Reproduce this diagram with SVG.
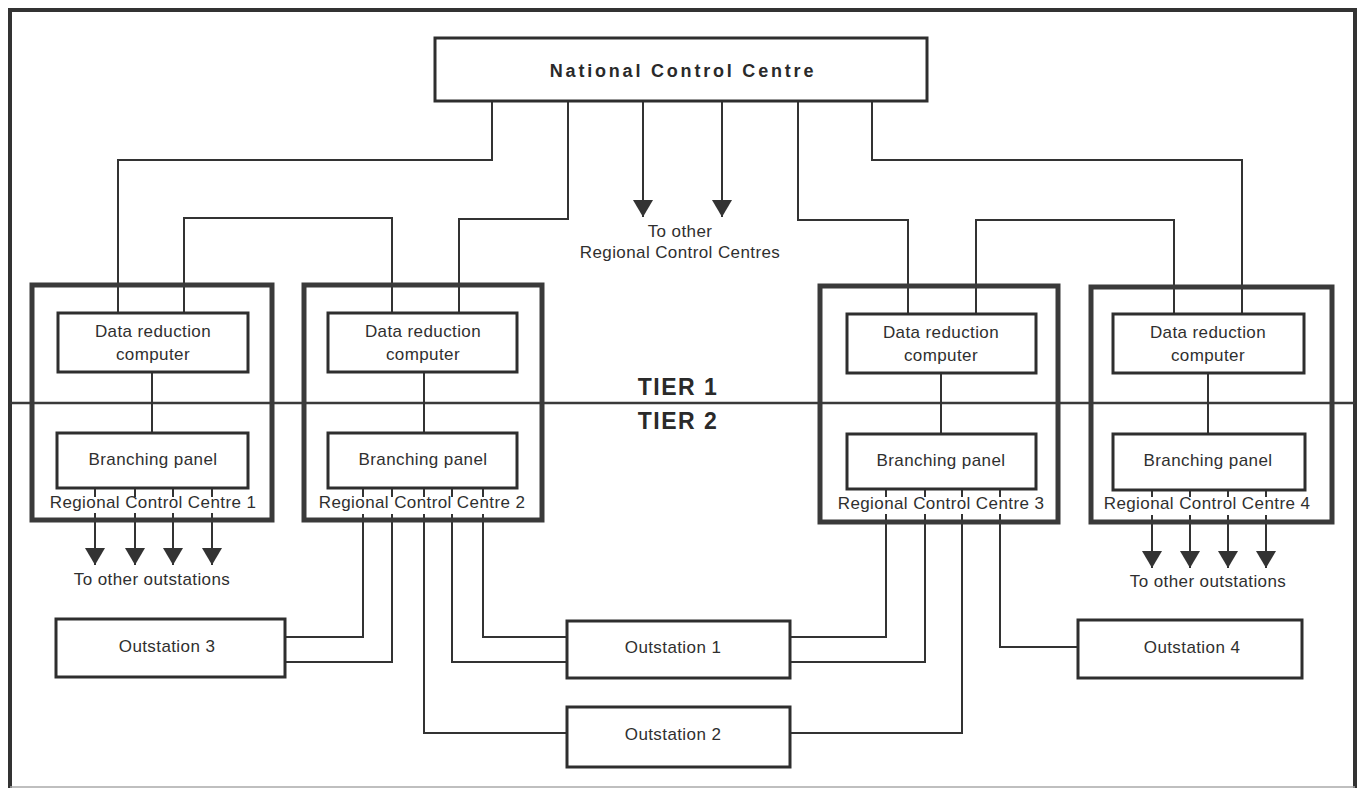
<svg xmlns="http://www.w3.org/2000/svg" width="1357" height="791" viewBox="0 0 1357 791">
<defs>
<style>
.bg{fill:#fff}
.frame{fill:none;stroke:#333;stroke-width:4}
.box{fill:#fff;stroke:#2e2e2e;stroke-width:3}
.rcc{fill:none;stroke:#3a3a3a;stroke-width:5}
.ln{fill:none;stroke:#333;stroke-width:2}
.tier{fill:none;stroke:#3a3a3a;stroke-width:2.5}
.t{font-family:"Liberation Sans",Arial,sans-serif;font-size:17px;fill:#2f2f2f;text-anchor:middle;letter-spacing:0.4px}
.ncc{font-family:"Liberation Sans",Arial,sans-serif;font-size:18px;font-weight:bold;fill:#2a2a2a;text-anchor:middle;letter-spacing:2.8px}
.tiert{font-family:"Liberation Sans",Arial,sans-serif;font-size:23px;font-weight:bold;fill:#2a2a2a;text-anchor:middle;letter-spacing:1.5px}
.arr{fill:#333}
</style>
<marker id="ah" viewBox="0 0 20 17" refX="10" refY="17" markerWidth="20" markerHeight="17" markerUnits="userSpaceOnUse" orient="0">
<path class="arr" d="M0,0 L20,0 L10,17 Z"/>
</marker>
</defs>
<rect class="bg" x="0" y="0" width="1357" height="791"/>
<g id="frame">
<path class="frame" d="M10,788 V10 H1355 V788"/>
<path d="M10,787 H1355" fill="none" stroke="#aaa" stroke-width="1.5"/>
<path class="tier" d="M10,403 H1355"/>
</g>
<g id="tier-labels">
<text class="tiert" x="678" y="395">TIER 1</text>
<text class="tiert" x="678" y="429">TIER 2</text>
</g>
<g id="connectors">
<path class="ln" d="M492,101 V160 H118 V313"/>
<path class="ln" d="M568,101 V219 H459 V313"/>
<path class="ln" d="M798,101 V220 H908 V314"/>
<path class="ln" d="M872,101 V160 H1242 V314"/>
<path class="ln" d="M184,313 V218 H392 V313"/>
<path class="ln" d="M976,314 V220 H1174 V314"/>
<path class="ln" d="M152,372 V433"/>
<path class="ln" d="M424,372 V433"/>
<path class="ln" d="M941,373 V434"/>
<path class="ln" d="M1208,373 V434"/>
<path class="ln" d="M643,101 V217" marker-end="url(#ah)"/>
<path class="ln" d="M722,101 V217" marker-end="url(#ah)"/>
<path class="ln" d="M95,488 V497 M135,488 V497 M173,488 V497 M212,488 V497"/>
<path class="ln" d="M95,513 V565" marker-end="url(#ah)"/>
<path class="ln" d="M135,513 V565" marker-end="url(#ah)"/>
<path class="ln" d="M173,513 V565" marker-end="url(#ah)"/>
<path class="ln" d="M212,513 V565" marker-end="url(#ah)"/>
<path class="ln" d="M1152,490 V497 M1190,490 V497 M1228,490 V497 M1266,490 V497"/>
<path class="ln" d="M1152,515 V568" marker-end="url(#ah)"/>
<path class="ln" d="M1190,515 V568" marker-end="url(#ah)"/>
<path class="ln" d="M1228,515 V568" marker-end="url(#ah)"/>
<path class="ln" d="M1266,515 V568" marker-end="url(#ah)"/>
<path class="ln" d="M363,488 V497 M392,488 V497 M424,488 V497 M452,488 V497 M483,488 V497"/>
<path class="ln" d="M363,514 V637 H285"/>
<path class="ln" d="M392,514 V662 H285"/>
<path class="ln" d="M424,514 V733 H567"/>
<path class="ln" d="M452,514 V662 H567"/>
<path class="ln" d="M483,514 V637 H567"/>
<path class="ln" d="M886,489 V497 M925,489 V497 M962,489 V497 M1000,489 V497"/>
<path class="ln" d="M886,514 V637 H790"/>
<path class="ln" d="M925,514 V662 H790"/>
<path class="ln" d="M962,514 V733 H790"/>
<path class="ln" d="M1000,514 V647 H1078"/>
</g>
<g id="ncc">
<rect class="box" x="435" y="38" width="492" height="63"/>
<text class="ncc" x="683" y="77">National Control Centre</text>
</g>
<g id="to-other-rcc">
<text class="t" x="680" y="237">To other</text>
<text class="t" x="680" y="258">Regional Control Centres</text>
</g>
<g id="rcc1">
<rect class="rcc" x="32" y="285" width="240" height="235"/>
<text class="t" x="153" y="508">Regional Control Centre 1</text>
</g>
<g id="drc1">
<rect class="box" x="58" y="313" width="190" height="59"/>
<text class="t" x="153" y="337">Data reduction</text>
<text class="t" x="153" y="360">computer</text>
</g>
<g id="bp1">
<rect class="box" x="57" y="433" width="191" height="55"/>
<text class="t" x="153" y="465">Branching panel</text>
</g>
<g id="rcc2">
<rect class="rcc" x="304" y="285" width="238" height="235"/>
<text class="t" x="422" y="508">Regional Control Centre 2</text>
</g>
<g id="drc2">
<rect class="box" x="328" y="313" width="189" height="59"/>
<text class="t" x="423" y="337">Data reduction</text>
<text class="t" x="423" y="360">computer</text>
</g>
<g id="bp2">
<rect class="box" x="328" y="433" width="189" height="55"/>
<text class="t" x="423" y="465">Branching panel</text>
</g>
<g id="rcc3">
<rect class="rcc" x="820" y="286" width="238" height="236"/>
<text class="t" x="941" y="509">Regional Control Centre 3</text>
</g>
<g id="drc3">
<rect class="box" x="847" y="314" width="189" height="59"/>
<text class="t" x="941" y="338">Data reduction</text>
<text class="t" x="941" y="361">computer</text>
</g>
<g id="bp3">
<rect class="box" x="847" y="434" width="189" height="55"/>
<text class="t" x="941" y="466">Branching panel</text>
</g>
<g id="rcc4">
<rect class="rcc" x="1091" y="287" width="241" height="235"/>
<text class="t" x="1207" y="509">Regional Control Centre 4</text>
</g>
<g id="drc4">
<rect class="box" x="1113" y="314" width="191" height="59"/>
<text class="t" x="1208" y="338">Data reduction</text>
<text class="t" x="1208" y="361">computer</text>
</g>
<g id="bp4">
<rect class="box" x="1113" y="434" width="192" height="56"/>
<text class="t" x="1208" y="466">Branching panel</text>
</g>
<g id="to-other-out-1">
<text class="t" x="152" y="585">To other outstations</text>
</g>
<g id="to-other-out-4">
<text class="t" x="1208" y="587">To other outstations</text>
</g>
<g id="outstation3">
<rect class="box" x="56" y="619" width="229" height="58"/>
<text class="t" x="167" y="652">Outstation 3</text>
</g>
<g id="outstation1">
<rect class="box" x="567" y="621" width="223" height="57"/>
<text class="t" x="673" y="653">Outstation 1</text>
</g>
<g id="outstation2">
<rect class="box" x="567" y="707" width="223" height="60"/>
<text class="t" x="673" y="740">Outstation 2</text>
</g>
<g id="outstation4">
<rect class="box" x="1078" y="620" width="224" height="58"/>
<text class="t" x="1192" y="653">Outstation 4</text>
</g>
</svg>
